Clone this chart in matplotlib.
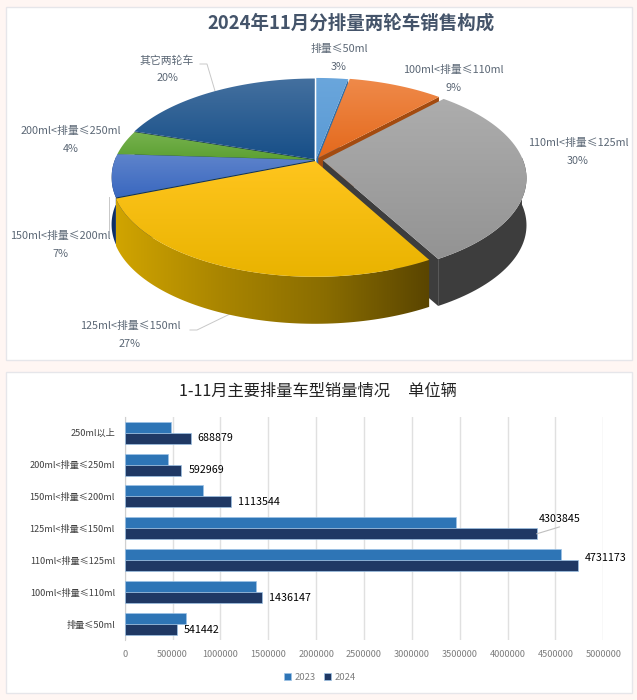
import numpy as np
import matplotlib
matplotlib.use('Agg')
import matplotlib.pyplot as plt
from matplotlib.colors import LinearSegmentedColormap
from matplotlib.patches import Polygon, Rectangle

plt.rcParams['font.family'] = ['Noto Sans CJK SC', 'DejaVu Sans']

# pie data
pie_labels = ['排量≤50ml', '100ml<排量≤110ml', '110ml<排量≤125ml', '125ml<排量≤150ml',
              '150ml<排量≤200ml', '200ml<排量≤250ml', '其它两轮车']
pie_shares = [3, 9, 30, 27, 7, 4, 20]

# bar data, bottom to top
bar_cats = ['排量≤50ml', '100ml<排量≤110ml', '110ml<排量≤125ml', '125ml<排量≤150ml',
            '150ml<排量≤200ml', '200ml<排量≤250ml', '250ml以上']
sales_2023 = [637000, 1375000, 4562000, 3459000, 819000, 450000, 484000]
sales_2024 = [541442, 1436147, 4731173, 4303845, 1113544, 592969, 688879]

W, H = 637, 700
fig = plt.figure(figsize=(W / 100, H / 100), dpi=100, facecolor='#fff6f3')
bg = fig.add_axes([0, 0, 1, 1])
bg.set_xlim(0, W)
bg.set_ylim(H, 0)
bg.axis('off')

for top, bottom in [(7, 360), (372, 693)]:
    bg.add_patch(Rectangle((6, top), 626, bottom - top, fc='white', ec='#e6e6ea', lw=1))

# pie geometry, in pixels
cx, cy = 316, 160
R, Ry = 200, 95
persp = 5.7
depth = 47

top_cols = [('#6aa6dc', '#5a9ad4'), ('#ef8a4a', '#e4691c'), ('#adadad', '#939393'),
            ('#ffc51e', '#e9b300'), ('#5f84cc', '#3a68bf'), ('#76b24e', '#5ca032'),
            ('#44709f', '#174f88')]
wall_cols = ['#2f6ea8', '#a34b10', '#3d3d3d', None, '#0f2f63', '#3c6b20', '#0e2f55']
explode = [0.018, 0.025, 0.035, 0.012, 0.006, 0.006, 0.012]
draw_order = [0, 6, 1, 5, 4, 2, 3]


def project(x, y):
    f = persp / (persp + y)
    return cx + R * x * f, cy - Ry * y * f


def gradient(verts, c0, c1, horizontal=False, stops=None):
    cols = stops if stops else [c0, c1]
    cmap = LinearSegmentedColormap.from_list('g', cols)
    xmin, ymin = verts.min(axis=0)
    xmax, ymax = verts.max(axis=0)
    ramp = np.linspace(0, 1, 128)
    ramp = ramp[None, :] if horizontal else ramp[:, None]
    poly = Polygon(verts, closed=True, fc='none', ec='none', transform=bg.transData)
    bg.add_patch(poly)
    im = bg.imshow(ramp, cmap=cmap, extent=[xmin, xmax, ymax, ymin], aspect='auto',
                   interpolation='bilinear', zorder=2, origin='upper')
    im.set_clip_path(poly)


edges = np.cumsum([0] + pie_shares) / sum(pie_shares) * 2 * np.pi
for i in draw_order:
    a0, a1 = edges[i], edges[i + 1]
    mid = (a0 + a1) / 2
    ox, oy = explode[i] * np.sin(mid), explode[i] * np.cos(mid)
    t = np.linspace(a0, a1, 80)
    rx, ry = project(ox + np.sin(t), oy + np.cos(t))
    ax0, ay0 = project(ox, oy)
    rim = np.column_stack([rx, ry])
    apex = np.array([ax0, ay0])
    shift = np.array([0, depth])

    # only walls that face the viewer, otherwise they spill over the neighbours
    walls = []
    if np.sin(a0) < -1e-6:
        walls.append(np.array([apex, rim[0], rim[0] + shift, apex + shift]))
    if np.sin(a1) > 1e-6:
        walls.append(np.array([apex, rim[-1], rim[-1] + shift, apex + shift]))
    front = np.cos(t) < 0.05
    outer = None
    if front.sum() > 1:
        outer = np.vstack([rim[front], (rim[front] + shift)[::-1]])

    if wall_cols[i] is None:
        for v in walls:
            bg.add_patch(Polygon(v, fc='#6e5500', ec='none', zorder=2))
        if outer is not None:
            gradient(outer, None, None, horizontal=True,
                     stops=['#d0a400', '#a98500', '#8a6d00', '#5a4500'])
    else:
        if outer is not None:
            walls.append(outer)
        for v in walls:
            bg.add_patch(Polygon(v, fc=wall_cols[i], ec='none', zorder=2))
    face = np.vstack([apex, rim])
    gradient(face, top_cols[i][0], top_cols[i][1])

bg.set_xlim(0, W)
bg.set_ylim(H, 0)

bg.text(351, 23, '2024年11月分排量两轮车销售构成', ha='center', va='center',
        fontsize=13.3, fontweight='bold', color='#44546a')

label_pos = [(339, 58), (453, 79), (578, 152), (130, 335), (60, 245), (71, 140), (167, 69)]
for name, share, (lx, ly) in zip(pie_labels, pie_shares, label_pos):
    bg.text(lx, ly, f'{name}\n{share}%', ha='center', va='center', fontsize=7.8,
            color='#5b6775', linespacing=1.9, zorder=5)

for xs, ys in [([200, 207, 215], [64, 64, 91]),
               ([190, 197, 232], [330, 330, 313]),
               ([109, 109], [230, 197])]:
    bg.plot(xs, ys, color='#c8c8c8', lw=0.7, zorder=1.5)
bg.set_xlim(0, W)
bg.set_ylim(H, 0)

bg.text(318, 391, '1-11月主要排量车型销量情况     单位辆', ha='center', va='center',
        fontsize=11.7, color='#222222')

# bar chart
ax = fig.add_axes([124.7 / W, 1 - 640 / H, (603.3 - 124.7) / W, (640 - 416.7) / H])
ax.patch.set_alpha(0)
ypos = np.arange(len(bar_cats))
h = 0.345
ax.barh(ypos + h / 2, sales_2023, h, color='#2e75b6', edgecolor='#9dc3e6', lw=0.5,
        label='2023', zorder=3)
ax.barh(ypos - h / 2, sales_2024, h, color='#1f3864', edgecolor='#9dc3e6', lw=0.5,
        label='2024', zorder=3)
ax.set_xlim(0, 5000000)
ax.set_ylim(-0.5, 6.5)
ax.set_xticks(np.arange(0, 5000001, 500000))
ax.ticklabel_format(axis='x', style='plain', useOffset=False)
ax.set_yticks(ypos)
ax.set_yticklabels(bar_cats)
ax.tick_params(axis='x', length=0, labelsize=6.6, labelcolor='#7f7f7f', pad=7)
ax.tick_params(axis='y', length=0, labelsize=6.6, labelcolor='#404040', pad=7)
ax.grid(axis='x', color='#e0e0e0', lw=1, zorder=0)
for s in ['top', 'right', 'bottom']:
    ax.spines[s].set_visible(False)
ax.spines['left'].set_color('#d0d0d0')

for i, v in enumerate(sales_2024):
    if v == max(sales_2024):
        ax.annotate(str(v), (v, i - h / 2), xytext=(7, 8), textcoords='offset pixels',
                    va='center', fontsize=7.7, color='black')
    elif bar_cats[i] == '125ml<排量≤150ml':
        ax.annotate(str(v), (v, i - h / 2), xytext=(2, 15), textcoords='offset pixels',
                    va='center', fontsize=7.7, color='black')
        ax.annotate('', (v, i - h / 2), xytext=(23, 7), textcoords='offset pixels',
                    arrowprops=dict(arrowstyle='-', color='#bfbfbf', lw=0.8,
                                    shrinkA=0, shrinkB=0), zorder=4)
    else:
        ax.annotate(str(v), (v, i - h / 2), xytext=(7, 0), textcoords='offset pixels',
                    va='center', fontsize=7.7, color='black')

ax.legend(loc='center', bbox_to_anchor=(320 / W, 1 - 677 / H), bbox_transform=fig.transFigure,
          ncol=2, frameon=False, fontsize=6.8, labelcolor='#7f7f7f', handlelength=0.75,
          handleheight=0.75, handletextpad=0.4, columnspacing=0.8)

fig.savefig('out.png', dpi=100, facecolor=fig.get_facecolor())
